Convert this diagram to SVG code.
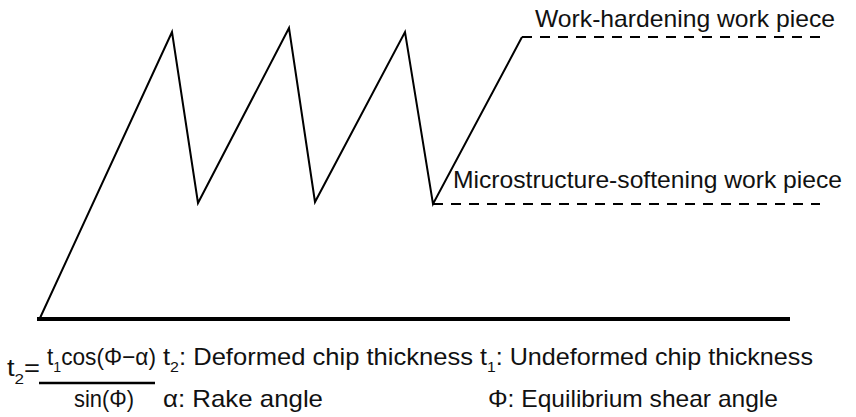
<svg xmlns="http://www.w3.org/2000/svg" width="856" height="417" viewBox="0 0 856 417">
<style>
.l{fill:none;stroke:#000;stroke-width:2;stroke-linejoin:miter}
.d{fill:none;stroke:#000;stroke-width:2;stroke-dasharray:10 8}
.t{font-family:"Liberation Sans",Arial,sans-serif;font-size:24px;fill:#111}
.s{font-size:15px}
</style>
<rect width="856" height="417" fill="#fff"/>
<g id="connectors">
<polyline class="l" points="40,318 172,32 198,203 289,28 315,202 405,32 433,204 522,37"/>
<line class="d" x1="522" y1="37" x2="825" y2="37"/>
<line class="d" x1="433" y1="204" x2="820" y2="204"/>
<line x1="37" y1="319" x2="790" y2="319" stroke="#000" stroke-width="4"/>
</g>
<g id="label-hardening"><text class="t" x="535" y="27" textLength="300" lengthAdjust="spacingAndGlyphs">Work-hardening work piece</text></g>
<g id="label-softening"><text class="t" x="453" y="188" textLength="389" lengthAdjust="spacingAndGlyphs">Microstructure-softening work piece</text></g>
<g id="formula">
<text class="t" x="7" y="376" textLength="33" lengthAdjust="spacingAndGlyphs">t<tspan class="s" dy="8">2</tspan><tspan dy="-8">=</tspan></text>
<text class="t" x="47" y="365" textLength="109" lengthAdjust="spacingAndGlyphs">t<tspan class="s" dy="7">1</tspan><tspan dy="-7">cos(Φ−α)</tspan></text>
<line x1="39" y1="383" x2="155" y2="383" stroke="#000" stroke-width="2.5"/>
<text class="t" x="74" y="407" textLength="60" lengthAdjust="spacingAndGlyphs">sin(Φ)</text>
</g>
<g id="legend">
<text class="t" x="163" y="365" textLength="310" lengthAdjust="spacingAndGlyphs">t<tspan class="s" dy="7">2</tspan><tspan dy="-7">: Deformed chip thickness</tspan></text>
<text class="t" x="163" y="407" textLength="160" lengthAdjust="spacingAndGlyphs">α: Rake angle</text>
<text class="t" x="480" y="365" textLength="333" lengthAdjust="spacingAndGlyphs">t<tspan class="s" dy="7">1</tspan><tspan dy="-7">: Undeformed chip thickness</tspan></text>
<text class="t" x="488" y="407" textLength="290" lengthAdjust="spacingAndGlyphs">Φ: Equilibrium shear angle</text>
</g>
</svg>
